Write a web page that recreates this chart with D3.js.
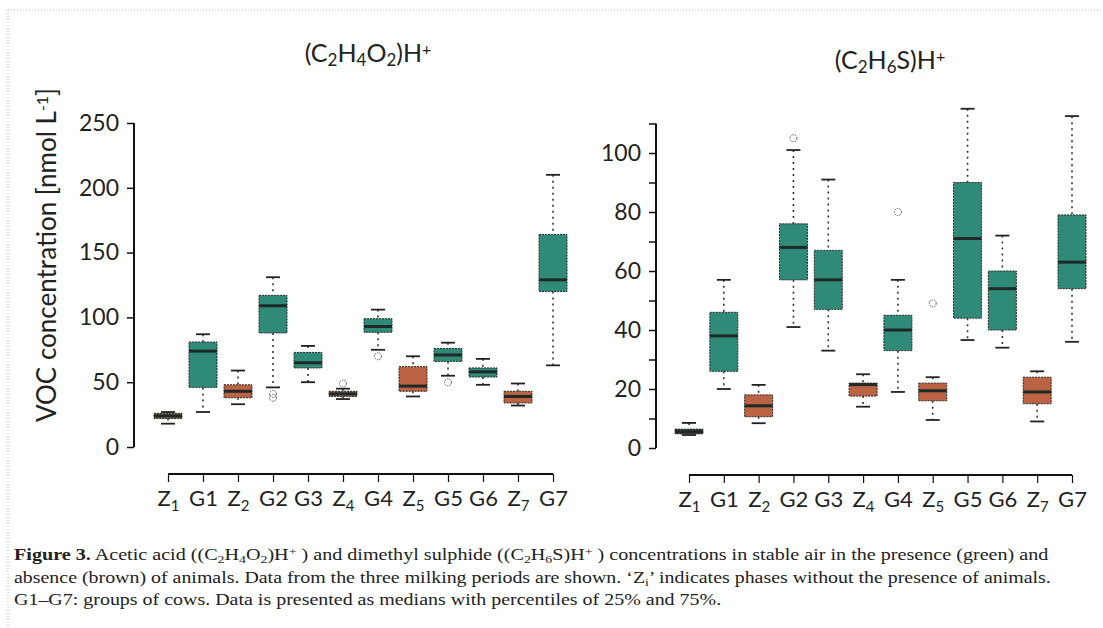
<!doctype html>
<html>
<head>
<meta charset="UTF-8">
<title>VOC concentrations</title>
<script src="https://cdn.jsdelivr.net/npm/d3@7"></script>
<style>
	body { margin: 0; background: #fff; }
	svg { display: block; }
</style>
</head>
<body>
<svg id="chart" width="1103" height="628"></svg>
<script>
(function(){
	'use strict'

	// categories along x, same for both panels
	const categories = ['Z1', 'G1', 'Z2', 'G2', 'G3', 'Z4', 'G4', 'Z5', 'G5', 'G6', 'Z7', 'G7'];
	const tickLabels = [['Z', '1'], ['G1', ''], ['Z', '2'], ['G2', ''], ['G3', ''], ['Z', '4'], ['G4', ''], ['Z', '5'], ['G5', ''], ['G6', ''], ['Z', '7'], ['G7', '']];

	// box stats: [lower whisker, q1, median, q3, upper whisker]
	const aceticStats = [
		[18, 22, 24, 26, 27],
		[27, 46, 74, 81, 87],
		[33, 38, 43, 48, 59],
		[46, 88, 109, 117, 131],
		[50, 61, 65, 73, 78],
		[37, 39, 41, 43, 45],
		[75, 88.5, 93, 99, 106],
		[39, 43, 47, 62, 70],
		[55, 66, 71, 76, 80.5],
		[48, 54, 58, 61, 68],
		[32, 34, 39, 43, 49],
		[63, 120, 129, 164, 210]
	];
	const aceticOutliers = [[], [], [], [41, 38], [], [49], [70], [], [50], [], [], []];

	const sulphideStats = [
		[4.4, 4.8, 5.5, 6.4, 8.5],
		[20, 26, 38, 46, 57],
		[8.4, 10.6, 14.3, 18, 21.4],
		[41, 57, 68, 76, 101],
		[33, 47, 57, 67, 91],
		[14, 17.6, 21.5, 22, 25],
		[19, 33, 40, 45, 57],
		[9.5, 16, 19.4, 22, 24],
		[36.6, 44, 71, 90, 115],
		[34, 40, 54, 60, 72],
		[9, 15, 19, 24, 26],
		[36, 54, 63, 79, 112.5]
	];
	const sulphideOutliers = [[], [], [], [105], [], [], [80], [49], [], [], [], []];

	const aceticTicks = [0, 50, 100, 150, 200, 250];
	const sulphideTicks = [0, 10, 20, 30, 40, 50, 60, 70, 80, 90, 100, 110];

	const green = '#2f8a78';
	const brown = '#bb6342';
	// fill per category (the first Z boxes look darker in the scan)
	const aceticFills = ['#7d5c50', green, brown, green, green, '#8a6252', green, brown, green, green, brown, green];
	const sulphideFills = ['#3a3634', green, brown, green, green, brown, green, brown, green, green, brown, green];

	const svg = d3.select('#chart');
	const font = 'Lato, "Open Sans", sans-serif';

	// faint dotted frame of the scanned page
	svg.append('line').attr('x1', 8).attr('x2', 1103).attr('y1', 10).attr('y2', 10)
		.attr('stroke', '#bbb').attr('stroke-dasharray', '1,2');
	svg.append('line').attr('x1', 8).attr('x2', 8).attr('y1', 10).attr('y2', 628)
		.attr('stroke', '#bbb').attr('stroke-dasharray', '1,2');

	function drawPanel(opts){
		const x = d3.scalePoint().domain(categories).range(opts.xRange);
		const y = d3.scaleLinear().domain(opts.yDomain).range(opts.yRange);
		const boxW = 28;
		const g = svg.append('g');

		// y axis
		const yAxis = g.append('g')
			.attr('transform', 'translate(' + opts.axisX + ',0)')
			.call(d3.axisLeft(y).tickValues(opts.yTicks).tickSize(7).tickSizeOuter(0)
				.tickFormat(function(d){ return opts.labelTick(d) ? d : ''; }));
		yAxis.select('.domain').attr('stroke', '#111').attr('stroke-width', 2)
			.attr('d', 'M0,' + y(opts.yDomain[1]) + 'V' + y(0));
		yAxis.selectAll('.tick line').attr('stroke', '#111').attr('stroke-width', 1.5);
		yAxis.selectAll('.tick text').attr('font-family', font).attr('font-size', 23)
			.attr('fill', '#222').attr('x', -15);

		// x axis
		const xAxis = g.append('g')
			.attr('transform', 'translate(0,' + opts.xAxisY + ')')
			.call(d3.axisBottom(x).tickSize(8).tickSizeOuter(0).tickFormat(''));
		xAxis.select('.domain').attr('stroke', '#111').attr('stroke-width', 1.8)
			.attr('d', 'M' + opts.xRange[0] + ',0H' + opts.xRange[1]);
		xAxis.selectAll('.tick line').attr('stroke', '#111').attr('stroke-width', 1.2);
		xAxis.selectAll('.tick').each(function(d, i){
			const t = d3.select(this).append('text')
				.attr('y', 32).attr('text-anchor', 'middle')
				.attr('font-family', font).attr('font-size', 22).attr('fill', '#222');
			t.append('tspan').text(tickLabels[i][0]);
			if(tickLabels[i][1]){
				t.append('tspan').attr('font-size', 15).attr('dy', 5).text(tickLabels[i][1]);
			}
		});

		// boxes
		const boxes = g.selectAll('.box').data(opts.stats).enter().append('g')
			.attr('class', 'box')
			.attr('transform', function(d, i){ return 'translate(' + x(categories[i]) + ',0)'; });

		boxes.append('line')
			.attr('y1', function(d){ return y(d[4]); }).attr('y2', function(d){ return y(d[3]); })
			.attr('stroke', '#333').attr('stroke-width', 1.6).attr('stroke-dasharray', '2,4');
		boxes.append('line')
			.attr('y1', function(d){ return y(d[1]); }).attr('y2', function(d){ return y(d[0]); })
			.attr('stroke', '#333').attr('stroke-width', 1.6).attr('stroke-dasharray', '2,4');
		boxes.append('line').attr('x1', -7).attr('x2', 7)
			.attr('y1', function(d){ return y(d[4]); }).attr('y2', function(d){ return y(d[4]); })
			.attr('stroke', '#222').attr('stroke-width', 1.8);
		boxes.append('line').attr('x1', -7).attr('x2', 7)
			.attr('y1', function(d){ return y(d[0]); }).attr('y2', function(d){ return y(d[0]); })
			.attr('stroke', '#222').attr('stroke-width', 1.8);
		boxes.append('rect')
			.attr('x', -boxW / 2).attr('width', boxW)
			.attr('y', function(d){ return y(d[3]); })
			.attr('height', function(d){ return Math.max(y(d[1]) - y(d[3]), 2); })
			.attr('fill', function(d, i){ return opts.fills[i]; })
			.attr('stroke', '#2a2a2a').attr('stroke-width', 1).attr('stroke-dasharray', '2,1');
		boxes.append('line').attr('x1', -boxW / 2).attr('x2', boxW / 2)
			.attr('y1', function(d){ return y(d[2]); }).attr('y2', function(d){ return y(d[2]); })
			.attr('stroke', '#1e2a26').attr('stroke-width', 3);

		boxes.each(function(d, i){
			d3.select(this).selectAll('circle').data(opts.outliers[i]).enter().append('circle')
				.attr('cy', function(v){ return y(v); }).attr('r', 3.5)
				.attr('fill', 'none').attr('stroke', '#555').attr('stroke-width', 1)
				.attr('stroke-dasharray', '1.5,1');
		});
	}

	drawPanel({
		xRange: [168, 553], yDomain: [0, 250], yRange: [447, 123],
		axisX: 134, xAxisY: 474, yTicks: aceticTicks,
		labelTick: function(){ return true; },
		stats: aceticStats, outliers: aceticOutliers, fills: aceticFills
	});
	drawPanel({
		xRange: [689, 1072], yDomain: [0, 110], yRange: [448, 123.5],
		axisX: 656, xAxisY: 475, yTicks: sulphideTicks,
		labelTick: function(d){ return d % 20 === 0; },
		stats: sulphideStats, outliers: sulphideOutliers, fills: sulphideFills
	});

	// chemical formula titles
	function formula(xc, yb, parts){
		const t = svg.append('text').attr('x', xc).attr('y', yb).attr('text-anchor', 'middle')
			.attr('font-family', font).attr('font-size', 25).attr('fill', '#222');
		parts.forEach(function(p){
			const s = t.append('tspan').text(p[0]);
			if(p[1] === 'sub') s.attr('font-size', 17).attr('baseline-shift', '-25%');
			if(p[1] === 'sup') s.attr('font-size', 16).attr('baseline-shift', '45%');
		});
	}
	formula(368, 62, [['(C'], ['2', 'sub'], ['H'], ['4', 'sub'], ['O'], ['2', 'sub'], [')H'], ['+', 'sup']]);
	formula(890, 69, [['(C'], ['2', 'sub'], ['H'], ['6', 'sub'], ['S)H'], ['+', 'sup']]);

	// y label
	const yl = svg.append('text')
		.attr('transform', 'translate(56,255) rotate(-90)')
		.attr('text-anchor', 'middle').attr('font-family', font).attr('font-size', 26).attr('fill', '#222');
	yl.append('tspan').text('VOC concentration [nmol L');
	yl.append('tspan').attr('font-size', 16).attr('baseline-shift', '50%').text('-1');
	yl.append('tspan').text(']');

	// caption, each line squeezed to the width of the scan
	const captionLines = [
		{ y: 560, width: 1035, parts: [['Figure 3.', 'b'], [' Acetic acid ((C'], ['2', 'sub'], ['H'], ['4', 'sub'], ['O'], ['2', 'sub'], [')H'], ['+', 'sup'], [' ) and dimethyl sulphide ((C'], ['2', 'sub'], ['H'], ['6', 'sub'], ['S)H'], ['+', 'sup'], [' ) concentrations in stable air in the presence (green) and']] },
		{ y: 583, width: 1038, parts: [['absence (brown) of animals. Data from the three milking periods are shown. \u2018Z'], ['i', 'sub'], ['\u2019 indicates phases without the presence of animals.']] },
		{ y: 605, width: 708, parts: [['G1\u2013G7: groups of cows. Data is presented as medians with percentiles of 25% and 75%.']] }
	];
	captionLines.forEach(function(line){
		const t = svg.append('text').attr('x', 0).attr('y', 0)
			.attr('font-family', '"Liberation Serif", serif').attr('font-size', 16).attr('fill', '#222');
		line.parts.forEach(function(p){
			const s = t.append('tspan').text(p[0]);
			if(p[1] === 'b') s.attr('font-weight', 'bold');
			if(p[1] === 'sub') s.attr('font-size', 11).attr('baseline-shift', '-25%');
			if(p[1] === 'sup') s.attr('font-size', 11).attr('baseline-shift', '45%');
		});
		const w = t.node().getComputedTextLength();
		t.attr('transform', 'translate(14,' + line.y + ') scale(' + (line.width / w) + ',1)');
	});
})();
</script>
</body>
</html>
